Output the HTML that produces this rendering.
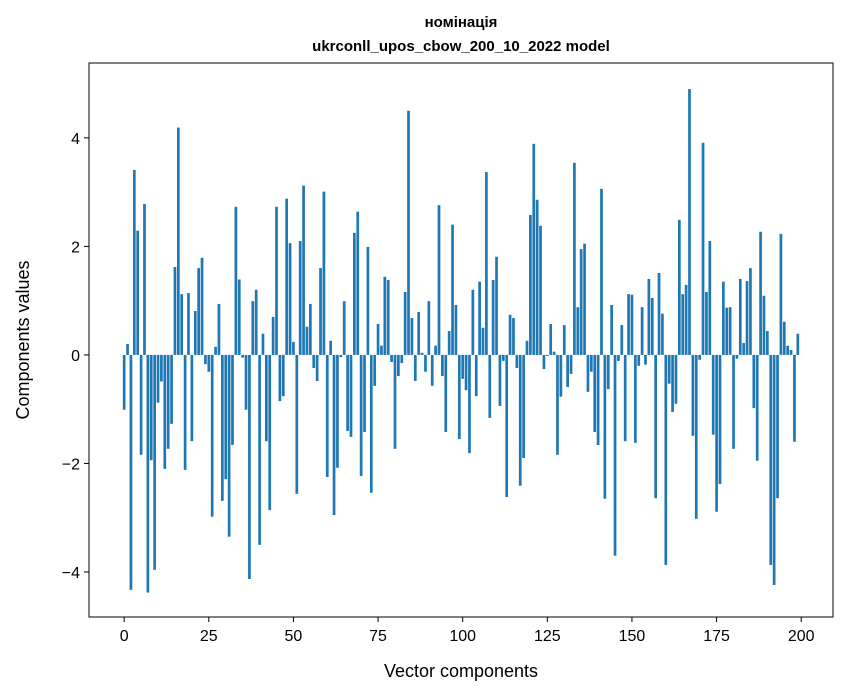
<!DOCTYPE html>
<html><head><meta charset="utf-8"><style>
html,body{margin:0;padding:0;background:#fff;}
svg{display:block;font-family:"Liberation Sans","DejaVu Sans",sans-serif;}
</style></head><body>
<svg id="chart" width="847" height="696" viewBox="0 0 847 696" xmlns="http://www.w3.org/2000/svg">
<rect x="0" y="0" width="847" height="696" fill="#fff"/>
<text x="461" y="27" text-anchor="middle" font-size="15" font-weight="bold">номінація</text>
<text x="461" y="51" text-anchor="middle" font-size="15" font-weight="bold">ukrconll_upos_cbow_200_10_2022 model</text>
<g id="bars"></g>
<g id="xticks"></g>
<g id="yticks"></g>
<rect x="89" y="63" width="744" height="554" fill="none" stroke="#000" stroke-width="1"/>
<text x="461" y="677" text-anchor="middle" font-size="18">Vector components</text>
<text transform="translate(29,340) rotate(-90)" text-anchor="middle" font-size="18">Components values</text>
</svg>
<script>
const values = [
-1.01,0.2,-4.33,3.41,2.29,-1.84,2.78,-4.38,-1.94,-3.96,
-0.88,-0.49,-2.1,-1.73,-1.27,1.62,4.19,1.12,-2.12,1.14,
-1.59,0.81,1.6,1.79,-0.17,-0.31,-2.98,0.15,0.94,-2.69,
-2.29,-3.35,-1.66,2.73,1.39,-0.05,-1.01,-4.13,0.99,1.2,
-3.5,0.39,-1.59,-2.86,0.7,2.73,-0.85,-0.76,2.88,2.06,
0.24,-2.56,2.1,3.12,0.52,0.94,-0.24,-0.48,1.6,3.01,
-2.25,0.26,-2.95,-2.08,-0.04,0.99,-1.4,-1.51,2.25,2.64,
-2.23,-1.42,1.99,-2.54,-0.57,0.57,0.17,1.44,1.38,-0.13,
-1.73,-0.39,-0.15,1.16,4.5,0.68,-0.48,0.79,0.04,-0.31,
0.99,-0.57,0.17,2.76,-0.39,-1.42,0.44,2.4,0.92,-1.55,
-0.44,-0.65,-1.81,1.2,-0.76,1.35,0.5,3.37,-1.16,1.38,
1.81,-0.94,-0.11,-2.62,0.74,0.68,-0.24,-2.41,-1.9,0.26,
2.58,3.89,2.86,2.38,-0.26,-0.02,0.57,0.06,-1.84,-0.77,
0.55,-0.59,-0.35,3.54,0.88,1.95,2.05,-0.68,-0.31,-1.42,
-1.66,3.06,-2.65,-0.63,0.92,-3.7,-0.11,0.55,-1.59,1.12,
1.11,-1.62,-0.2,0.88,-0.18,1.4,1.05,-2.64,1.51,0.76,
-3.87,-0.53,-1.05,-0.9,2.49,1.12,1.29,4.9,-1.49,-3.02,
-0.09,3.91,1.16,2.1,-1.47,-2.89,-2.38,1.35,0.87,0.88,
-1.73,-0.07,1.4,0.22,1.36,1.6,-0.98,-1.95,2.27,1.09,
0.44,-3.87,-4.24,-2.64,2.23,0.61,0.17,0.09,-1.6,0.39
];
const xTickValues = [0,25,50,75,100,125,150,175,200];
const yTickValues = [-4,-2,0,2,4];
const yTickLabels = ["\u22124","\u22122","0","2","4"];

const NS = "http://www.w3.org/2000/svg";
const plotL = 89, plotR = 833, plotT = 63, plotB = 617;
const xMin = -10.39, xMax = 209.39;
const yMin = -4.83, yMax = 5.38;
function xScale(v){ return plotL + (v - xMin) / (xMax - xMin) * (plotR - plotL); }
function yScale(v){ return plotB - (v - yMin) / (yMax - yMin) * (plotB - plotT); }

const barsG = document.getElementById('bars');
const bw = 0.8;
values.forEach((v, i) => {
  const r = document.createElementNS(NS, 'rect');
  const x0 = xScale(i - bw/2), x1 = xScale(i + bw/2);
  const y0 = yScale(Math.max(v, 0)), y1 = yScale(Math.min(v, 0));
  r.setAttribute('x', x0);
  r.setAttribute('width', x1 - x0);
  r.setAttribute('y', y0);
  r.setAttribute('height', Math.max(y1 - y0, 0.01));
  r.setAttribute('fill', '#1f77b4');
  
  
  barsG.appendChild(r);
});

const xg = document.getElementById('xticks');
xTickValues.forEach(t => {
  const x = xScale(t);
  const l = document.createElementNS(NS, 'line');
  l.setAttribute('x1', x); l.setAttribute('x2', x);
  l.setAttribute('y1', plotB); l.setAttribute('y2', plotB + 5);
  l.setAttribute('stroke', '#000');
  
  
  xg.appendChild(l);
  const tx = document.createElementNS(NS, 'text');
  tx.setAttribute('x', x); tx.setAttribute('y', plotB + 24);
  tx.setAttribute('text-anchor', 'middle');
  tx.setAttribute('font-size', '16');
  tx.textContent = String(t);
  
  
  xg.appendChild(tx);
});

const yg = document.getElementById('yticks');
yTickValues.forEach((t, i) => {
  const y = yScale(t);
  const l = document.createElementNS(NS, 'line');
  l.setAttribute('x1', plotL - 5); l.setAttribute('x2', plotL);
  l.setAttribute('y1', y); l.setAttribute('y2', y);
  l.setAttribute('stroke', '#000');
  
  
  yg.appendChild(l);
  const tx = document.createElementNS(NS, 'text');
  tx.setAttribute('x', plotL - 9); tx.setAttribute('y', y + 6);
  tx.setAttribute('text-anchor', 'end');
  tx.setAttribute('font-size', '16');
  tx.textContent = yTickLabels[i];
  
  
  yg.appendChild(tx);
});
</script>
</body></html>
